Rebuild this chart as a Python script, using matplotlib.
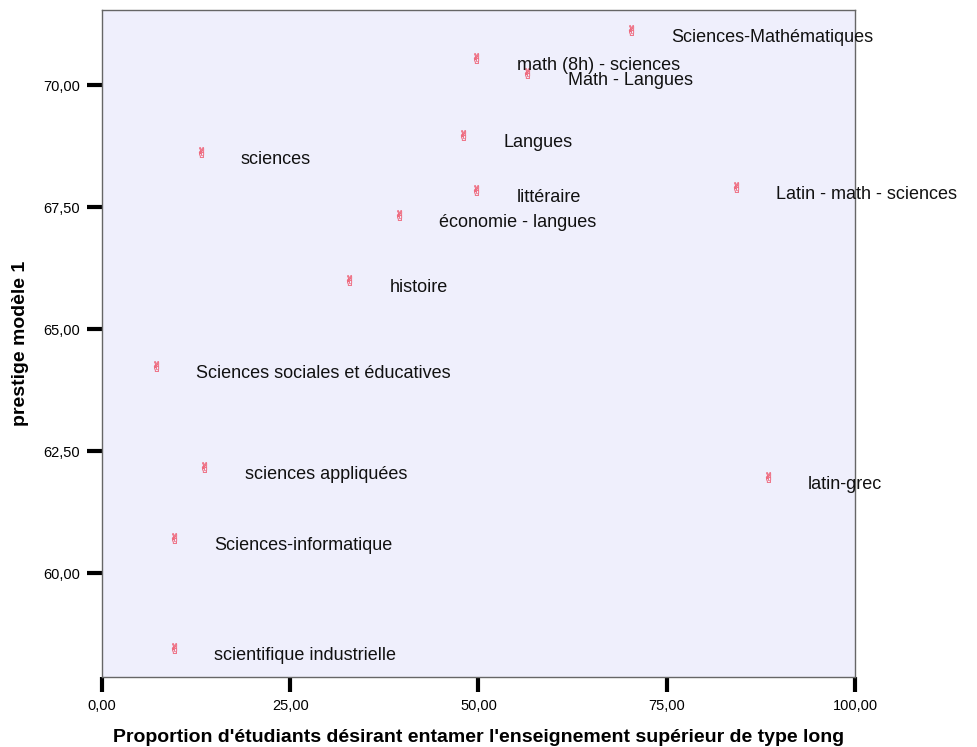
import matplotlib
matplotlib.use("Agg")
import matplotlib.pyplot as plt
from matplotlib.ticker import FuncFormatter

# data
filieres = ['Sciences-Mathématiques', 'math (8h) - sciences', 'Math - Langues', 'Langues',
            'sciences', 'littéraire', 'Latin - math - sciences', 'économie - langues',
            'histoire', 'Sciences sociales et éducatives', 'sciences appliquées',
            'latin-grec', 'Sciences-informatique', 'scientifique industrielle']
proportion = [70.2, 49.7, 56.5, 48.0, 13.1, 49.7, 84.2, 39.4, 32.8, 7.2, 13.6, 88.4, 9.5, 9.5]
prestige = [71.13, 70.56, 70.25, 68.98, 68.63, 67.85, 67.91, 67.34, 66.0, 64.24, 62.17,
            61.97, 60.72, 58.46]

x_ticks = [0, 25, 50, 75, 100]
y_ticks = [60, 62.5, 65, 67.5, 70]

plt.rcParams['font.family'] = ['Liberation Sans', 'DejaVu Sans']

fig = plt.figure(figsize=(9.77, 7.47), dpi=100)
ax = fig.add_axes([0.1044, 0.0937, 0.7707, 0.8929])
ax.set_facecolor('#efeffc')

ax.scatter(proportion, prestige, marker='$\u270c$', s=55, color='#ee6a7e', linewidths=0.3,
           edgecolors='#ee6a7e')

for name, xv, yv in zip(filieres, proportion, prestige):
    ax.annotate(name, (xv, yv), xytext=(29, -5.5), textcoords='offset points',
                fontsize=13, ha='left', va='center', color='#111111')

ax.set_xlim(0, 100)
ax.set_ylim(57.87, 71.54)
ax.set_xticks(x_ticks)
ax.set_yticks(y_ticks)
fmt = FuncFormatter(lambda v, p: ('%.2f' % v).replace('.', ','))
ax.xaxis.set_major_formatter(fmt)
ax.yaxis.set_major_formatter(fmt)
ax.tick_params(direction='out', length=11, width=3, color='black', labelsize=10.5, pad=5)

for s in ax.spines.values():
    s.set_color('#666666')
    s.set_linewidth(1)

ax.set_xlabel("Proportion d'étudiants désirant entamer l'enseignement supérieur de type long",
              fontsize=14, fontweight='bold', labelpad=11)
ax.set_ylabel('prestige modèle 1', fontsize=14, fontweight='bold', labelpad=10)

fig.savefig('out.png', dpi=100)
